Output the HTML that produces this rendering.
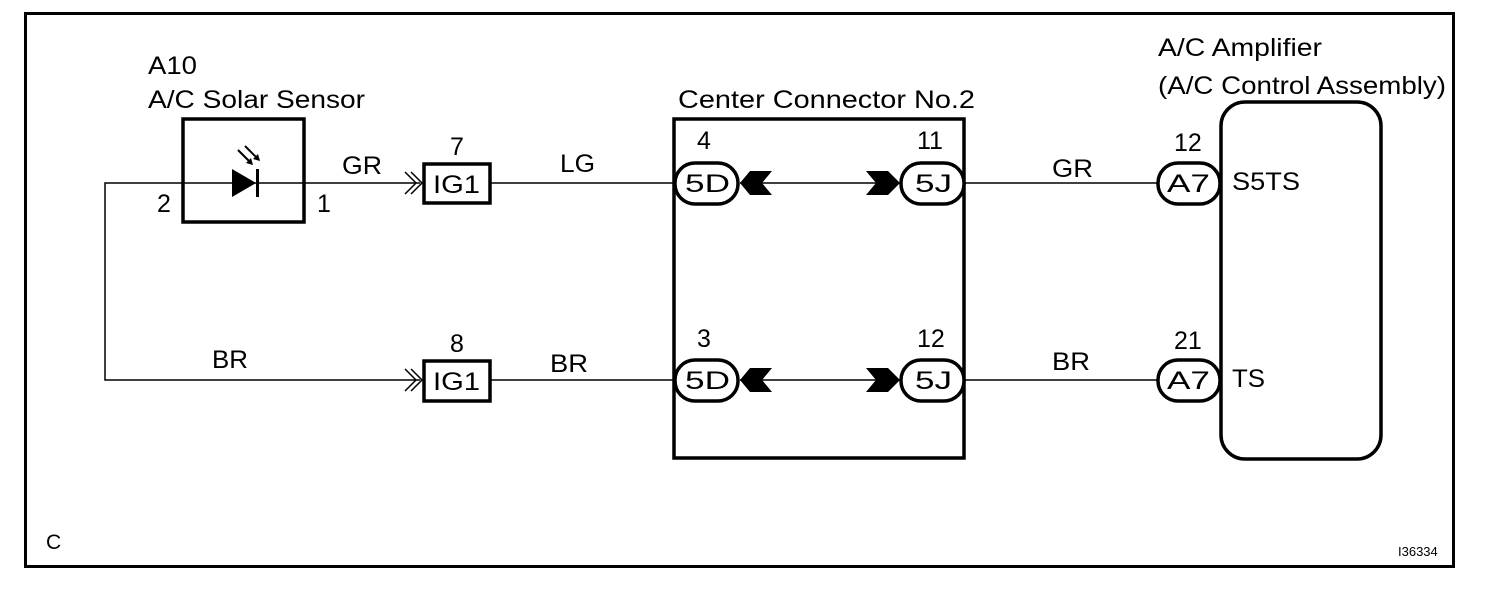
<!DOCTYPE html>
<html><head><style>html,body{margin:0;padding:0;background:#fff}svg{display:block}text{font-family:"Liberation Sans",sans-serif;font-size:25px;fill:#000}</style></head>
<body>
<svg width="1504" height="604" viewBox="0 0 1504 604" xmlns="http://www.w3.org/2000/svg">
<rect x="25.5" y="13.5" width="1428" height="553" fill="none" stroke="#000" stroke-width="3"/>
<g fill="none" stroke="#000" stroke-width="1.5">
<polyline points="182,183 105,183 105,380 420,380"/>
<line x1="305" y1="183" x2="420" y2="183"/>
<line x1="490" y1="183" x2="674" y2="183"/>
<line x1="490" y1="380" x2="674" y2="380"/>
<line x1="740" y1="183" x2="900" y2="183"/>
<line x1="740" y1="380" x2="900" y2="380"/>
<line x1="964" y1="183" x2="1158" y2="183"/>
<line x1="964" y1="380" x2="1158" y2="380"/>
<line x1="183" y1="183" x2="304" y2="183"/>
<polyline points="405,172 416,183 405,194"/>
<polyline points="411,172 422,183 411,194"/>
<polyline points="405,369 416,380 405,391"/>
<polyline points="411,369 422,380 411,391"/>
</g>
<g fill="none" stroke="#000" stroke-width="3.5">
<rect x="183" y="119" width="121" height="103"/>
<rect x="424" y="164" width="66" height="39"/>
<rect x="424" y="361" width="66" height="40"/>
<rect x="674" y="119" width="290" height="339"/>
<rect x="1221" y="102" width="160" height="357" rx="24"/>
<rect x="675" y="163" width="63" height="41" rx="20" fill="#fff"/>
<rect x="901" y="163" width="63" height="41" rx="20" fill="#fff"/>
<rect x="675" y="360" width="63" height="41" rx="20" fill="#fff"/>
<rect x="901" y="360" width="63" height="41" rx="20" fill="#fff"/>
<rect x="1158" y="163" width="62" height="41" rx="20" fill="#fff"/>
<rect x="1158" y="360" width="62" height="41" rx="20" fill="#fff"/>
</g>
<g fill="#000">
<polygon points="232,169 256,183 232,197"/>
<rect x="256" y="169" width="3" height="28"/>
<polygon points="740,183 750,171 772,171 762,183 772,195 750,195"/>
<polygon points="866,171 888,171 900,183 888,195 866,195 876,183"/>
<polygon points="740,380 750,368 772,368 762,380 772,392 750,392"/>
<polygon points="866,368 888,368 900,380 888,392 866,392 876,380"/>
</g>
<g stroke="#000" stroke-width="2"><line x1="238" y1="150" x2="252" y2="164"/><line x1="245" y1="146" x2="259" y2="160"/></g>
<polygon points="253,165 246,163 251,158" fill="#000"/><polygon points="260,161 253,159 258,154" fill="#000"/>
<g lengthAdjust="spacingAndGlyphs">
<text x="148" y="74" textLength="49" lengthAdjust="spacingAndGlyphs">A10</text>
<text x="148" y="108" textLength="217" lengthAdjust="spacingAndGlyphs">A/C Solar Sensor</text>
<text x="157" y="212">2</text>
<text x="317" y="212">1</text>
<text x="342" y="174" textLength="40" lengthAdjust="spacingAndGlyphs">GR</text>
<text x="450" y="155">7</text>
<text x="433" y="193" textLength="47" lengthAdjust="spacingAndGlyphs">IG1</text>
<text x="560" y="172" textLength="35" lengthAdjust="spacingAndGlyphs">LG</text>
<text x="678" y="108" textLength="297" lengthAdjust="spacingAndGlyphs">Center Connector No.2</text>
<text x="697" y="149">4</text>
<text x="685" y="192" textLength="45" lengthAdjust="spacingAndGlyphs">5D</text>
<text x="917" y="149">11</text>
<text x="915" y="192" textLength="37" lengthAdjust="spacingAndGlyphs">5J</text>
<text x="1052" y="177" textLength="41" lengthAdjust="spacingAndGlyphs">GR</text>
<text x="1158" y="56" textLength="164" lengthAdjust="spacingAndGlyphs">A/C Amplifier</text>
<text x="1158" y="94" textLength="288" lengthAdjust="spacingAndGlyphs">(A/C Control Assembly)</text>
<text x="1174" y="151">12</text>
<text x="1167" y="192" textLength="43" lengthAdjust="spacingAndGlyphs">A7</text>
<text x="1232" y="190" textLength="68" lengthAdjust="spacingAndGlyphs">S5TS</text>
<text x="212" y="368" textLength="36" lengthAdjust="spacingAndGlyphs">BR</text>
<text x="450" y="352">8</text>
<text x="433" y="390" textLength="47" lengthAdjust="spacingAndGlyphs">IG1</text>
<text x="550" y="372" textLength="38" lengthAdjust="spacingAndGlyphs">BR</text>
<text x="697" y="347">3</text>
<text x="685" y="389" textLength="45" lengthAdjust="spacingAndGlyphs">5D</text>
<text x="917" y="347">12</text>
<text x="915" y="389" textLength="37" lengthAdjust="spacingAndGlyphs">5J</text>
<text x="1052" y="370" textLength="38" lengthAdjust="spacingAndGlyphs">BR</text>
<text x="1174" y="349">21</text>
<text x="1167" y="389" textLength="43" lengthAdjust="spacingAndGlyphs">A7</text>
<text x="1232" y="387" textLength="33" lengthAdjust="spacingAndGlyphs">TS</text>
</g>
<text x="46" y="549" style="font-size:21px">C</text>
<text x="1398" y="556" style="font-size:13px">I36334</text>
</svg>
</body></html>
